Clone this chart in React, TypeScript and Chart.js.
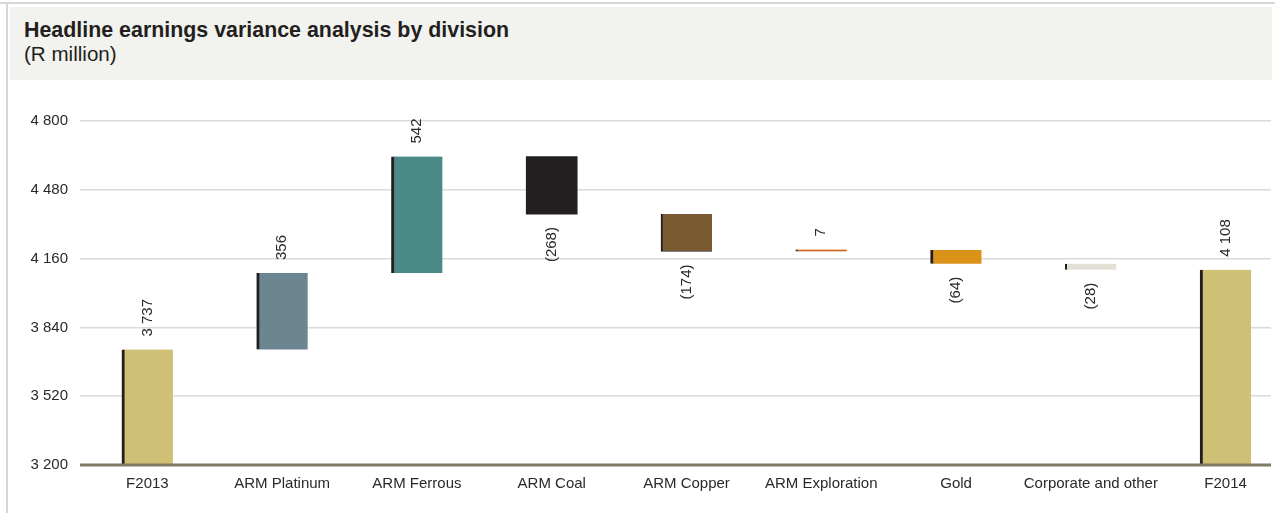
import React, { useEffect, useRef } from "react";
import { Chart, registerables } from "chart.js";

Chart.register(...registerables);

const categories = [
  "F2013",
  "ARM Platinum",
  "ARM Ferrous",
  "ARM Coal",
  "ARM Copper",
  "ARM Exploration",
  "Gold",
  "Corporate and other",
  "F2014",
];
const changes = [3737, 356, 542, -268, -174, 7, -64, -28, 4108];
const isTotal = [true, false, false, false, false, false, false, false, true];
const barColors = [
  "#cfc075",
  "#6c8691",
  "#4a8987",
  "#231f20",
  "#7a5a31",
  "#d2691f",
  "#da9318",
  "#e2dfd6",
  "#cfc075",
];
const yMin = 3200;
const yMax = 4800;
const yStep = 320;

const edgeLeft = [3, 3, 3, 0, 2, 2, 3, 2, 3];
const edgeBottom = [0, 0, 0, 0, 1, 0, 0, 0, 0];

const FONT = "'Liberation Sans', Arial, Helvetica, sans-serif";
const TEXT = "#2b2829";

function fmt(n: number): string {
  return String(Math.abs(n)).replace(/\B(?=(\d{3})+(?!\d))/g, " ");
}
function labelText(v: number, total: boolean): string {
  if (total || v >= 0) return fmt(v);
  return "(" + fmt(v) + ")";
}

function buildRanges(): number[][] {
  const out: number[][] = [];
  let running = 0;
  for (let i = 0; i < changes.length; i++) {
    if (isTotal[i]) {
      out.push([yMin, changes[i]]);
      running = changes[i];
    } else {
      const s = running;
      const e = running + changes[i];
      out.push([Math.min(s, e), Math.max(s, e)]);
      running = e;
    }
  }
  return out;
}

const labelPlugin = {
  id: "wfLabels",
  afterDatasetsDraw(chart: any) {
    const ctx = chart.ctx;
    const meta = chart.getDatasetMeta(0);
    const area = chart.chartArea;
    ctx.save();
    ctx.strokeStyle = "#7f7b63";
    ctx.lineWidth = 3;
    ctx.beginPath();
    const yb = chart.scales.y.getPixelForValue(yMin);
    ctx.moveTo(area.left, yb);
    ctx.lineTo(area.right, yb);
    ctx.stroke();
    ctx.restore();

    ctx.save();
    ctx.font = "15px " + FONT;
    ctx.fillStyle = TEXT;
    ctx.textBaseline = "middle";
    meta.data.forEach((el: any, i: number) => {
      const { x, y, base } = el.getProps(["x", "y", "base"], true);
      const top = Math.min(y, base);
      const bottom = Math.max(y, base);
      const v = changes[i];
      const txt = labelText(v, isTotal[i]);
      ctx.save();
      if (isTotal[i] || v >= 0) {
        ctx.translate(x, top - 13);
        ctx.rotate(-Math.PI / 2);
        ctx.textAlign = "left";
      } else {
        ctx.translate(x, bottom + 13);
        ctx.rotate(-Math.PI / 2);
        ctx.textAlign = "right";
      }
      ctx.fillText(txt, 0, 0);
      ctx.restore();
    });
    ctx.restore();
  },
};

export default function App() {
  const ref = useRef<HTMLCanvasElement | null>(null);

  useEffect(() => {
    if (!ref.current) return;
    const chart = new Chart(ref.current, {
      type: "bar",
      data: {
        labels: categories,
        datasets: [
          {
            data: buildRanges() as any,
            backgroundColor: barColors,
            borderColor: "#231f20",
            borderWidth: (c: any) => ({
              left: edgeLeft[c.dataIndex] || 0,
              bottom: edgeBottom[c.dataIndex] || 0,
              top: 0,
              right: 0,
            }),
            borderSkipped: false,
            barThickness: 51,
            minBarLength: 2,
          } as any,
        ],
      },
      options: {
        responsive: false,
        animation: false,
        devicePixelRatio: 1,
        layout: { padding: { top: 121, right: 7, bottom: 0, left: 0 } },
        plugins: {
          legend: { display: false },
          tooltip: { enabled: false },
          title: { display: false },
        },
        scales: {
          x: {
            offset: true,
            grid: { display: false, drawTicks: false },
            border: { display: false },
            ticks: {
              color: TEXT,
              font: { family: FONT, size: 15 },
              padding: 10,
              maxRotation: 0,
              autoSkip: false,
            },
            afterFit: (s: any) => {
              s.height = 48;
            },
          },
          y: {
            min: yMin,
            max: yMax,
            grid: {
              drawTicks: false,
              color: (c: any) =>
                c.tick && c.tick.value === yMin ? "rgba(0,0,0,0)" : "#dadada",
              lineWidth: 1.5,
            },
            border: { display: false },
            ticks: {
              stepSize: yStep,
              color: TEXT,
              font: { family: FONT, size: 15 },
              padding: 12,
              callback: (v: any) => fmt(Number(v)),
            },
            afterFit: (s: any) => {
              s.width = 80;
            },
          },
        },
      },
      plugins: [labelPlugin],
    });
    return () => chart.destroy();
  }, []);

  return (
    <div
      style={{
        position: "absolute",
        left: 0,
        top: 0,
        width: 1275,
        height: 513,
        background: "#ffffff",
        overflow: "hidden",
        fontFamily: FONT,
      }}
    >
      <div
        style={{
          position: "absolute",
          left: 0,
          top: 2,
          width: 1275,
          height: 2,
          background: "#d6d6d6",
        }}
      />
      <div
        style={{
          position: "absolute",
          left: 6,
          top: 2,
          width: 2,
          height: 511,
          background: "#d6d6d6",
        }}
      />
      <div
        style={{
          position: "absolute",
          left: 10,
          top: 7,
          width: 1262,
          height: 73,
          background: "#f2f2ee",
        }}
      />
      <div
        style={{
          position: "absolute",
          left: 24,
          top: 20,
          fontSize: 21.4,
          lineHeight: "21px",
          fontWeight: "bold",
          color: "#231f20",
          whiteSpace: "nowrap",
        }}
      >
        Headline earnings variance analysis by division
      </div>
      <div
        style={{
          position: "absolute",
          left: 24,
          top: 44,
          fontSize: 20.6,
          lineHeight: "20px",
          color: "#231f20",
          whiteSpace: "nowrap",
        }}
      >
        (R million)
      </div>
      <div
        style={{
          position: "absolute",
          left: 0,
          top: 0,
          width: 1271,
          height: 513,
          overflow: "hidden",
        }}
      >
        <canvas
          ref={ref}
          width={1300}
          height={513}
          style={{ position: "absolute", left: 0, top: 0, width: 1300, height: 513 }}
        />
      </div>
    </div>
  );
}
